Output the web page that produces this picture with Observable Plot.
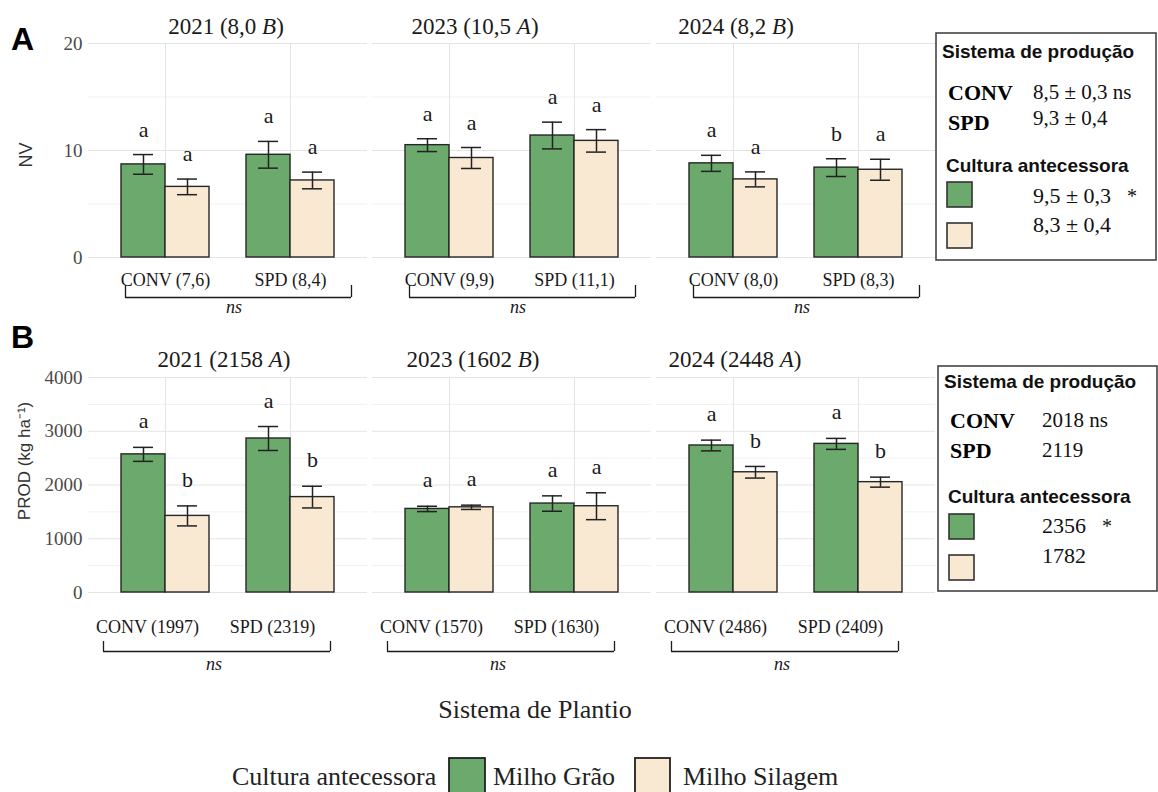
<!DOCTYPE html>
<html><head><meta charset="utf-8">
<script src="https://cdn.jsdelivr.net/npm/d3@7"></script>
<script src="https://cdn.jsdelivr.net/npm/@observablehq/plot@0.6"></script>
<style>
html,body{margin:0;padding:0;background:#fff;}
#root{position:relative;width:1158px;height:792px;overflow:hidden;background:#fff;}
.layer{position:absolute;left:0;}
</style></head>
<body><div id="root"></div>
<script>
// ---------------- DATA ----------------
const years = ["2021", "2023", "2024"];
const sistemas = ["CONV", "SPD"];
const culturas = ["Milho Grão", "Milho Silagem"];
const culturaColors = ["#6ca96c", "#f9e8d2"];

// per year: [CONV-Grão, CONV-Silagem, SPD-Grão, SPD-Silagem]
const nvMean = [[8.7, 6.6, 9.6, 7.2], [10.5, 9.3, 11.4, 10.9], [8.8, 7.3, 8.4, 8.2]];
const nvErr = [[0.92, 0.73, 1.25, 0.78], [0.6, 0.98, 1.25, 1.05], [0.75, 0.7, 0.83, 0.98]];
const nvLetters = [["a", "a", "a", "a"], ["a", "a", "a", "a"], ["a", "a", "b", "a"]];
const nvGroupLabels = [["CONV (7,6)", "SPD (8,4)"], ["CONV (9,9)", "SPD (11,1)"], ["CONV (8,0)", "SPD (8,3)"]];
const nvTitles = ["2021 (8,0 B)", "2023 (10,5 A)", "2024 (8,2 B)"];
const nvTicks = [0, 10, 20];
const nvMinor = [5, 15];

const prodMean = [[2570, 1425, 2865, 1775], [1555, 1585, 1655, 1605], [2735, 2237, 2765, 2053]];
const prodErr = [[130, 186, 223, 202], [50, 40, 143, 250], [100, 108, 102, 93]];
const prodLetters = [["a", "b", "a", "b"], ["a", "a", "a", "a"], ["a", "b", "a", "b"]];
const prodGroupLabels = [["CONV (1997)", "SPD (2319)"], ["CONV (1570)", "SPD (1630)"], ["CONV (2486)", "SPD (2409)"]];
const prodTitles = ["2021 (2158 A)", "2023 (1602 B)", "2024 (2448 A)"];
const prodTicks = [0, 1000, 2000, 3000, 4000];
const prodMinor = [500, 1500, 2500, 3500];

const nvLegendSistema = [["CONV", "8,5 ± 0,3 ns"], ["SPD", "9,3 ± 0,4"]];
const nvLegendCultura = [["9,5 ± 0,3", "*"], ["8,3 ± 0,4", ""]];
const prodLegendSistema = [["CONV", "2018 ns"], ["SPD", "2119"]];
const prodLegendCultura = [["2356", "*"], ["1782", ""]];

// ---------------- STYLE / LAYOUT ----------------
const SERIF = "'Liberation Serif','Times New Roman',serif";
const SANS = "'Liberation Sans',Arial,sans-serif";
const INK = "#1a1a1a";
const TICK_INK = "#4a4a4a";
const GRID_MAJOR = "#e4e4e4";
const GRID_MINOR = "#f1f1f1";
const BAR_STROKE = "#262626";
const ERR = "#222";
const W = 940, ML = 88, MR = 5;
const FX_PI = 5 / 284;
const X_PI = 0.296, X_PO = 0.264;
const fxStep = (W - ML - MR) / (3 - FX_PI);
const FW = fxStep * (1 - FX_PI);
const xStep = FW / (2 - X_PI + 2 * X_PO);
const BW = xStep * (1 - X_PI);
const C_CONV = xStep * X_PO + BW / 2;   // band centre of CONV inside a facet
const C_SPD = C_CONV + xStep;           // band centre of SPD inside a facet
const CAP_W = 20;

function rowsFor(means, errs, letters) {
  const out = [];
  years.forEach((yr, i) => sistemas.forEach((s, j) => culturas.forEach((c, k) => {
    const idx = j * 2 + k;
    out.push({year: yr, sistema: s, cultura: c, v: means[i][idx], e: errs[i][idx], letter: letters[i][idx]});
  })));
  return out;
}

function panel(cfg) {
  const rows = rowsFor(cfg.means, cfg.errs, cfg.letters);
  const groups = [];
  years.forEach((yr, i) => sistemas.forEach((s, j) => groups.push({year: yr, sistema: s, label: cfg.groupLabels[i][j]})));
  const half = BW / 2, quarter = BW / 4, capInset = (BW - CAP_W) / 2;
  const FH = cfg.height - cfg.mt - cfg.mb;
  const subs = [
    {c: culturas[0], dx: -quarter, insetL: 0, insetR: half},
    {c: culturas[1], dx: quarter, insetL: half, insetR: 0}
  ];
  const marks = [
    Plot.ruleY(cfg.minor, {stroke: GRID_MINOR, strokeWidth: 1}),
    Plot.ruleY(cfg.ticks, {stroke: GRID_MAJOR, strokeWidth: 1}),
    Plot.ruleX(sistemas, {stroke: GRID_MAJOR, strokeWidth: 1})
  ];
  for (const s of subs) {
    const d = rows.filter(r => r.cultura === s.c);
    marks.push(
      Plot.barY(d, {fx: "year", x: "sistema", y: "v", fill: "cultura", stroke: BAR_STROKE, strokeWidth: 1.4, insetLeft: s.insetL, insetRight: s.insetR}),
      Plot.ruleX(d, {fx: "year", x: "sistema", y1: r => r.v - r.e, y2: r => r.v + r.e, dx: s.dx, stroke: ERR, strokeWidth: 1.5}),
      Plot.tickY(d, {fx: "year", x: "sistema", y: r => r.v + r.e, dx: s.dx, insetLeft: capInset, insetRight: capInset, stroke: ERR, strokeWidth: 1.5}),
      Plot.tickY(d, {fx: "year", x: "sistema", y: r => r.v - r.e, dx: s.dx, insetLeft: capInset, insetRight: capInset, stroke: ERR, strokeWidth: 1.5}),
      Plot.text(d, {fx: "year", x: "sistema", y: r => r.v + r.e, text: "letter", dx: s.dx, dy: cfg.letterDy, fontSize: 22, fill: INK})
    );
  }
  // group labels under bars
  marks.push(Plot.text(groups, {fx: "year", x: "sistema", text: "label", frameAnchor: "bottom", lineAnchor: "bottom", dy: cfg.groupDy, dx: cfg.groupDx, fontSize: 18, fill: INK}));
  // facet titles
  years.forEach((yr, i) => {
    marks.push(Plot.text([cfg.titles[i]], {fx: () => yr, text: d => d, frameAnchor: "top", lineAnchor: "bottom", dy: cfg.titleDy, dx: cfg.titleDx[i], fontSize: 23, fill: INK}));
  });
  // brackets + ns (vertical ends: rules inset down to a short tick at the frame bottom)
  marks.push(
    Plot.ruleY(years, {fx: d => d, y: () => 0, dy: cfg.brDy, insetLeft: cfg.brL, insetRight: cfg.brR, stroke: INK, strokeWidth: 1.3}),
    Plot.ruleX(years, {fx: d => d, x: () => sistemas[0], insetTop: FH - cfg.brTick, dy: cfg.brDy, dx: cfg.brL - C_CONV, stroke: INK, strokeWidth: 1.3}),
    Plot.ruleX(years, {fx: d => d, x: () => sistemas[1], insetTop: FH - cfg.brTick, dy: cfg.brDy, dx: FW - cfg.brR - C_SPD, stroke: INK, strokeWidth: 1.3}),
    Plot.text(years, {fx: d => d, text: () => "ns", frameAnchor: "bottom", lineAnchor: "bottom", dy: cfg.nsDy, dx: cfg.nsDx, fontSize: 18, fontStyle: "italic", fill: INK})
  );
  const svg = Plot.plot({
    width: W, height: cfg.height,
    marginLeft: ML, marginRight: MR, marginTop: cfg.mt, marginBottom: cfg.mb,
    style: {fontFamily: SERIF, fontSize: "19px", color: TICK_INK, background: "transparent", overflow: "visible"},
    fx: {domain: years, axis: null, paddingInner: FX_PI, paddingOuter: 0, round: false},
    x: {domain: sistemas, axis: null, paddingInner: X_PI, paddingOuter: X_PO, round: false},
    y: {domain: cfg.domain, ticks: cfg.ticks, tickSize: 0, tickPadding: 6, label: null, tickFormat: d3.format("d")},
    color: {domain: culturas, range: culturaColors},
    marks
  });
  // italic letter inside titles
  svg.querySelectorAll("text").forEach(t => {
    const m = /^(\d{4} \([\d,]+ )([A-Z])(\))$/.exec(t.textContent);
    if (!m) return;
    t.textContent = "";
    const ns = "http://www.w3.org/2000/svg";
    [[m[1], null], [m[2], "italic"], [m[3], null]].forEach(([s, st]) => {
      const ts = document.createElementNS(ns, "tspan");
      ts.textContent = s;
      if (st) ts.setAttribute("font-style", st);
      t.appendChild(ts);
    });
  });
  return svg;
}

const root = document.getElementById("root");
function place(el, top) {
  const div = document.createElement("div");
  div.className = "layer";
  div.style.top = top + "px";
  div.appendChild(el);
  root.appendChild(div);
}

place(panel({
  means: nvMean, errs: nvErr, letters: nvLetters, groupLabels: nvGroupLabels, titles: nvTitles,
  domain: [0, 20], ticks: nvTicks, minor: nvMinor,
  height: 325, mt: 43, mb: 68,
  letterDy: -25, groupDy: 28, groupDx: 0, titleDy: -10, titleDx: [-2, -37, -60],
  brDy: 40, brL: 37, brR: 16, brTick: 12, nsDy: 55, nsDx: 6
}), 0);

place(panel({
  means: prodMean, errs: prodErr, letters: prodLetters, groupLabels: prodGroupLabels, titles: prodTitles,
  domain: [0, 4000], ticks: prodTicks, minor: prodMinor,
  height: 345, mt: 37, mb: 93,
  letterDy: -26, groupDy: 40, groupDx: -18, titleDy: -11, titleDx: [-4, -39, -61],
  brDy: 59, brL: 15, brR: 37, brTick: 10, nsDy: 77, nsDx: -14
}), 340);

// ---------------- OVERLAY (labels, legends) ----------------
const ov = d3.select(root).append("svg")
  .attr("width", 1158).attr("height", 792)
  .style("position", "absolute").style("left", 0).style("top", 0)
  .style("pointer-events", "none");

function txt(x, y, s, o = {}) {
  const t = ov.append("text").attr("x", x).attr("y", y).text(s)
    .attr("font-family", o.family || SERIF)
    .attr("font-size", o.size || 20)
    .attr("fill", o.fill || INK);
  if (o.weight) t.attr("font-weight", o.weight);
  if (o.anchor) t.attr("text-anchor", o.anchor);
  if (o.style) t.attr("font-style", o.style);
  if (o.transform) t.attr("transform", o.transform).attr("x", 0).attr("y", 0);
  return t;
}
function box(x, y, w, h, fill, sw = 1.5, stroke = "#333") {
  ov.append("rect").attr("x", x).attr("y", y).attr("width", w).attr("height", h)
    .attr("fill", fill).attr("stroke", stroke).attr("stroke-width", sw);
}

// panel letters
txt(11, 50, "A", {family: SANS, size: 32, weight: "bold", fill: "#000"});
txt(11, 348, "B", {family: SANS, size: 32, weight: "bold", fill: "#000"});
// y axis titles
txt(0, 0, "NV", {family: SANS, size: 18, anchor: "middle", fill: "#333", transform: "translate(32,155) rotate(-90)"});
txt(0, 0, "PROD (kg ha⁻¹)", {family: SANS, size: 17, anchor: "middle", fill: "#333", transform: "translate(30,461) rotate(-90)"});

// side legend boxes
function sideLegend(ox, oy, w, h, sis, cul, L) {
  box(ox, oy, w, h, "#fff", 1.6, "#444");
  txt(ox + L.titleX, oy + L.titleY, "Sistema de produção", {family: SANS, size: 19, weight: "bold", fill: "#111"});
  sis.forEach(([k, v], i) => {
    txt(ox + 12, oy + L.sisY[i], k, {size: 22, weight: "bold", fill: "#000"});
    txt(ox + L.valX, oy + L.sisValY[i], v, {size: 21, fill: "#111"});
  });
  txt(ox + 10, oy + L.culTitleY, "Cultura antecessora", {family: SANS, size: 19, weight: "bold", fill: "#111"});
  cul.forEach(([v, sig], i) => {
    box(ox + 11, oy + L.swY[i], 25, 25, culturaColors[i], 1.6, "#333");
    txt(ox + L.valX, oy + L.culValY[i], v, {size: 22, fill: "#111"});
    if (sig) txt(ox + L.starX, oy + L.culValY[i], sig, {size: 20, fill: "#111"});
  });
}
sideLegend(936, 33, 220, 227, nvLegendSistema, nvLegendCultura, {
  titleX: 6, titleY: 25, sisY: [67, 97], sisValY: [66, 92], valX: 97, culTitleY: 139,
  swY: [149, 190], culValY: [170, 199], starX: 191
});
sideLegend(938, 366, 219, 225, prodLegendSistema, prodLegendCultura, {
  titleX: 6, titleY: 22, sisY: [62, 92], sisValY: [61, 91], valX: 104, culTitleY: 137,
  swY: [148, 189], culValY: [167, 197], starX: 164
});

// x axis title
txt(535, 718, "Sistema de Plantio", {size: 26, anchor: "middle", fill: "#222"});

// bottom legend
txt(232, 785, "Cultura antecessora", {size: 26, fill: "#222"});
box(449, 758, 36, 45, culturaColors[0], 1.8, "#222");
txt(493, 785, culturas[0], {size: 26, fill: "#222"});
box(635, 758, 35, 45, culturaColors[1], 1.8, "#222");
txt(683, 785, culturas[1], {size: 26, fill: "#222"});
</script></body></html>
